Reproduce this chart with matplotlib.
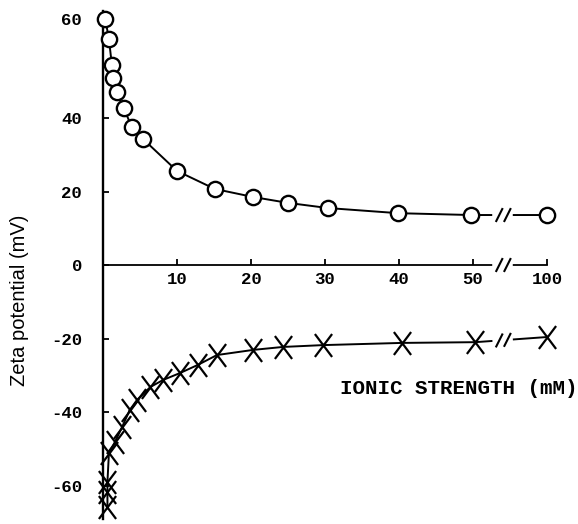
import numpy as np
import matplotlib
matplotlib.use("Agg")
import matplotlib.pyplot as plt
from matplotlib.path import Path
from matplotlib.lines import Line2D

# ---- data ----
pos_x = [0.3, 0.8, 1.2, 1.4, 1.9, 2.8, 3.9, 5.4, 10, 15.1, 20.3, 25, 30.4, 39.9, 49.7, 100]
pos_y = [60, 55.9, 50.7, 48.1, 45.2, 42, 37.5, 34.3, 25.6, 20.7, 18.5, 16.9, 15.5, 14.1, 13.6, 13.6]
neg_x = [0.6, 0.6, 0.6, 0.8, 1.6, 2.6, 3.6, 4.6, 6.4, 8.1, 10.4, 12.8, 15.4, 20.3, 24.3, 29.7, 40.4, 50.3, 100]
neg_y = [-65.9, -61.8, -59, -51.2, -48.2, -44, -39.5, -36.7, -33.2, -31.3, -29.4, -27.2, -24.5,
         -23.1, -22.3, -21.8, -21.2, -21, -19.6]
x_ticks = [10, 20, 30, 40, 50, 100]
x_ticklabels = ["10", "20", "30", "40", "50", "100"]
y_ticks = [-60, -40, -20, 0, 20, 40, 60]
y_ticklabels = ["-60", "-40", "-20", "0", "20", "40", "60"]

# ---- broken scales ----
XB, XS = 55.0, 9.0
def xf(x):
    x = np.asarray(x, float)
    return np.where(x <= XB, x, XB + (x - XB) / XS)
def xi(x):
    x = np.asarray(x, float)
    return np.where(x <= XB, x, XB + (x - XB) * XS)

YB, YS = 40.0, 1.35
def yf(y):
    y = np.asarray(y, float)
    return np.where(y <= YB, y, YB + (y - YB) * YS)
def yi(y):
    y = np.asarray(y, float)
    return np.where(y <= YB, y, YB + (y - YB) / YS)

W, H = 578, 524
fig = plt.figure(figsize=(W / 100, H / 100), dpi=100)
xl_disp = (-1.0, 62.0)
yl_disp = (-69.0, 69.0)
left_px = 103 + xl_disp[0] * 7.4
right_px = 103 + xl_disp[1] * 7.4
top_px = 265 - yl_disp[1] * 3.675
bot_px = 265 - yl_disp[0] * 3.675
ax = fig.add_axes([left_px / W, 1 - bot_px / H, (right_px - left_px) / W, (bot_px - top_px) / H])
ax.set_xscale('function', functions=(xf, xi))
ax.set_yscale('function', functions=(yf, yi))
ax.set_xlim(float(xi(xl_disp[0])), float(xi(xl_disp[1])))
ax.set_ylim(float(yi(yl_disp[0])), float(yi(yl_disp[1])))

for s in ('top', 'right'):
    ax.spines[s].set_visible(False)
ax.spines['left'].set_position(('data', 0))
ax.spines['bottom'].set_position(('data', 0))
ax.spines['left'].set_linewidth(1.7)
ax.spines['bottom'].set_linewidth(1.3)
ax.spines['bottom'].set_bounds(0, 100)
ax.spines['left'].set_bounds(float(yi(yl_disp[0])), float(yi(yl_disp[1])))

tickfont = dict(family='Liberation Mono', weight='bold', size=12.5)
ax.set_xticks(x_ticks)
ax.set_xticklabels(x_ticklabels, **tickfont)
ax.set_yticks(y_ticks)
ax.set_yticklabels(y_ticklabels, **tickfont)
ax.minorticks_off()
ax.tick_params(axis='x', direction='in', length=4, width=1.3, pad=5)
ax.tick_params(axis='y', direction='in', length=4, width=1.3, pad=15)

xmark = Path([(-0.75, -1), (0.75, 1), (-0.75, 1), (0.75, -1)],
             [Path.MOVETO, Path.LINETO, Path.MOVETO, Path.LINETO])

ax.plot(pos_x, pos_y, color='black', lw=1.4, marker='o', ms=11, mfc='white',
        mec='black', mew=1.7, clip_on=False, zorder=3)
ax.plot(neg_x, neg_y, color='black', lw=1.4, marker=xmark, ms=16.5, mfc='none',
        mec='black', mew=1.6, clip_on=False, zorder=3)

# ---- break marks ----
fig.canvas.draw()
gap = (53.0, 55.1)
slashes = (53.55, 54.65)
to_px = ax.transData.transform

def break_at(xs, ys):
    gy = np.interp(xf(gap), xf(xs), ys)
    p0, p1 = to_px((gap[0], gy[0])), to_px((gap[1], gy[1]))
    fig.add_artist(Line2D([p0[0] / W, p1[0] / W], [p0[1] / H, p1[1] / H],
                          transform=fig.transFigure, color='white', lw=4, zorder=5))
    for sx in slashes:
        sy = float(np.interp(xf(sx), xf(xs), ys))
        c = to_px((sx, sy))
        fig.add_artist(Line2D([(c[0] - 3) / W, (c[0] + 3) / W], [(c[1] - 6) / H, (c[1] + 6) / H],
                              transform=fig.transFigure, color='black', lw=1.5, zorder=6))

break_at(pos_x, pos_y)
break_at(neg_x, neg_y)
break_at([0, 100], [0, 0])

fig.text(20 / W, 1 - 300 / H, "Zeta potential (mV)", rotation=90, ha='center', va='center',
         family='Liberation Sans', fontsize=14.5)
fig.text(578 / W, 1 - 388 / H, "IONIC STRENGTH (mM)", ha='right', va='center',
         family='Liberation Mono', fontsize=15, weight='bold')

fig.savefig("out.png", dpi=100)
